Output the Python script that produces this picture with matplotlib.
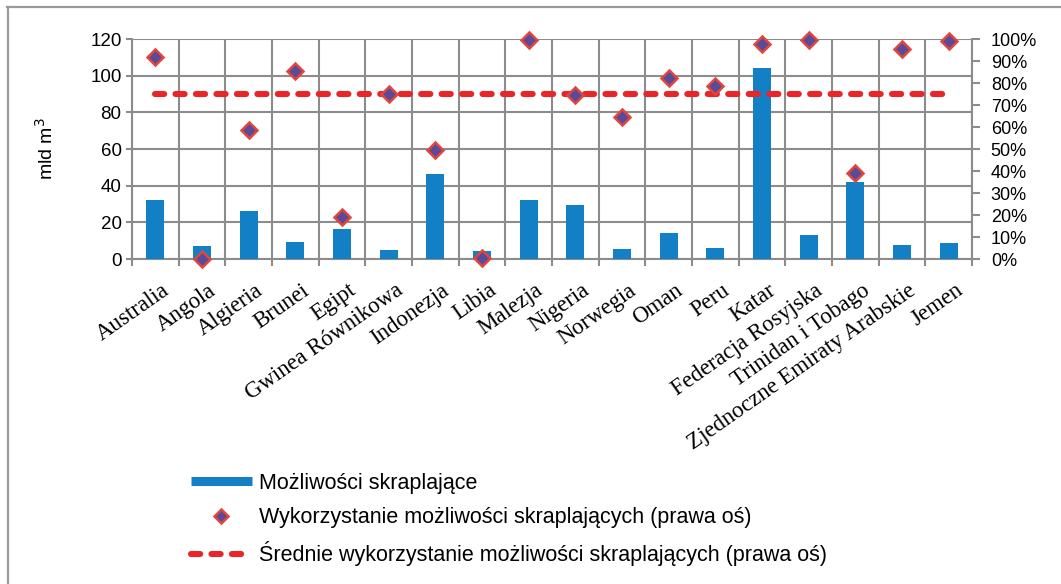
import matplotlib
matplotlib.use("Agg")
import matplotlib.pyplot as plt
import matplotlib.transforms as mtransforms
from matplotlib.lines import Line2D
from matplotlib.ticker import FuncFormatter
import numpy as np

plt.rcParams["font.family"] = ["Liberation Sans", "DejaVu Sans"]

categories = ["Australia", "Angola", "Algieria", "Brunei", "Egipt", "Gwinea Równikowa",
              "Indonezja", "Libia", "Malezja", "Nigeria", "Norwegia", "Oman", "Peru",
              "Katar", "Federacja Rosyjska", "Trinidan i Tobago",
              "Zjednoczne Emiraty Arabskie", "Jemen"]
capacity = [32.4, 7.0, 26.1, 9.5, 16.6, 4.9, 46.1, 4.5, 32.4, 29.4, 5.6, 14.4, 5.8,
            104.3, 13.0, 42.0, 7.7, 9.0]
utilization = [91.6, 0.0, 58.6, 85.3, 18.9, 74.8, 49.4, 0.5, 99.4, 74.5, 64.6, 82.1,
               78.5, 97.9, 99.7, 39.0, 95.5, 99.2]
avg_utilization = 74.8
left_ticks = [0, 20, 40, 60, 80, 100, 120]
right_ticks = [0, 10, 20, 30, 40, 50, 60, 70, 80, 90, 100]

bar_color = "#1380C6"
grid_color = "#8C8C8C"
dash_color = "#E8262A"
dash_style = (0, (1.5, 1.85))

W, H = 1061, 584
fig = plt.figure(figsize=(W / 100, H / 100), dpi=100)
L, R, B, T = 132, 972, 259, 39
ax = fig.add_axes([L / W, 1 - B / H, (R - L) / W, (B - T) / H])
ax2 = ax.twinx()

n = len(categories)
x = np.arange(n)
ax.bar(x, capacity, width=0.39, color=bar_color, zorder=3)
ax.set_xlim(-0.5, n - 0.5)
ax.set_ylim(0, 120)
ax.set_yticks(left_ticks)
ax.tick_params(axis="y", labelsize=13.5, length=4.5, width=1.5, color=grid_color, pad=3)
ax.set_ylabel("mld m$^3$", fontsize=14, labelpad=24)

# grid
ax.set_xticks(np.arange(n + 1) - 0.5, minor=True)
ax.set_xticks(x)
ax.set_xticklabels(categories, rotation=35, ha="right", va="top",
                   rotation_mode="anchor", fontsize=16.5, family="Liberation Serif")
ax.tick_params(axis="x", which="major", length=0, pad=15)
ax.tick_params(axis="x", which="minor", length=5, width=1.5, color=grid_color)
offset = mtransforms.ScaledTranslation(6 / 100, 0, fig.dpi_scale_trans)
for lab in ax.get_xticklabels():
    lab.set_transform(lab.get_transform() + offset)
ax.grid(True, which="minor", axis="x", color=grid_color, lw=1.5, zorder=0)
ax.grid(True, which="major", axis="y", color=grid_color, lw=1.5, zorder=0)
ax.set_axisbelow(True)
for s in ["top", "right"]:
    ax.spines[s].set_visible(False)
ax.spines["left"].set_color(grid_color)
ax.spines["left"].set_linewidth(1.5)
ax.spines["bottom"].set_color(grid_color)
ax.spines["bottom"].set_linewidth(1.5)

# right axis
ax2.set_ylim(0, 100)
ax2.set_yticks(right_ticks)
ax2.yaxis.set_major_formatter(FuncFormatter(lambda v, p: f"{int(v)}%"))
ax2.tick_params(axis="y", labelsize=13, length=5.5, width=1.5, color=grid_color, pad=8)
for s in ["top", "left", "bottom"]:
    ax2.spines[s].set_visible(False)
ax2.spines["right"].set_color(grid_color)
ax2.spines["right"].set_linewidth(1.5)

ax2.plot(x, [avg_utilization] * n, color=dash_color, lw=4.4, ls=dash_style,
         dash_capstyle="round", zorder=4)
ax2.plot(x, utilization, ls="none", marker="D", markersize=8, markerfacecolor="#5A4A9A",
         markeredgecolor="#E0463C", markeredgewidth=1.8, zorder=5, clip_on=False)

# legend
handles = [
    Line2D([], [], color=bar_color, lw=6.5, solid_capstyle="butt"),
    Line2D([], [], ls="none", marker="D", markersize=7, markerfacecolor="#5A4A9A",
           markeredgecolor="#E0463C", markeredgewidth=1.8),
    Line2D([], [], color=dash_color, lw=4.4, ls=dash_style, dash_capstyle="round"),
]
labels = ["Możliwości skraplające",
          "Wykorzystanie możliwości skraplających (prawa oś)",
          "Średnie wykorzystanie możliwości skraplających (prawa oś)"]
fig.legend(handles, labels, loc="upper left", bbox_to_anchor=(180 / W, 1 - 462 / H),
           frameon=False, fontsize=15.5, handlelength=2.85, handletextpad=0.3,
           labelspacing=0.62, borderpad=0)

# outer frame (top and left)
fig.add_artist(Line2D([7 / W, 1], [1 - 7 / H, 1 - 7 / H], color="#9A9A9A", lw=1.6,
                      transform=fig.transFigure))
fig.add_artist(Line2D([7.5 / W, 7.5 / W], [0, 1 - 7 / H], color="#9A9A9A", lw=1.6,
                      transform=fig.transFigure))

fig.savefig("out.png", dpi=100)
